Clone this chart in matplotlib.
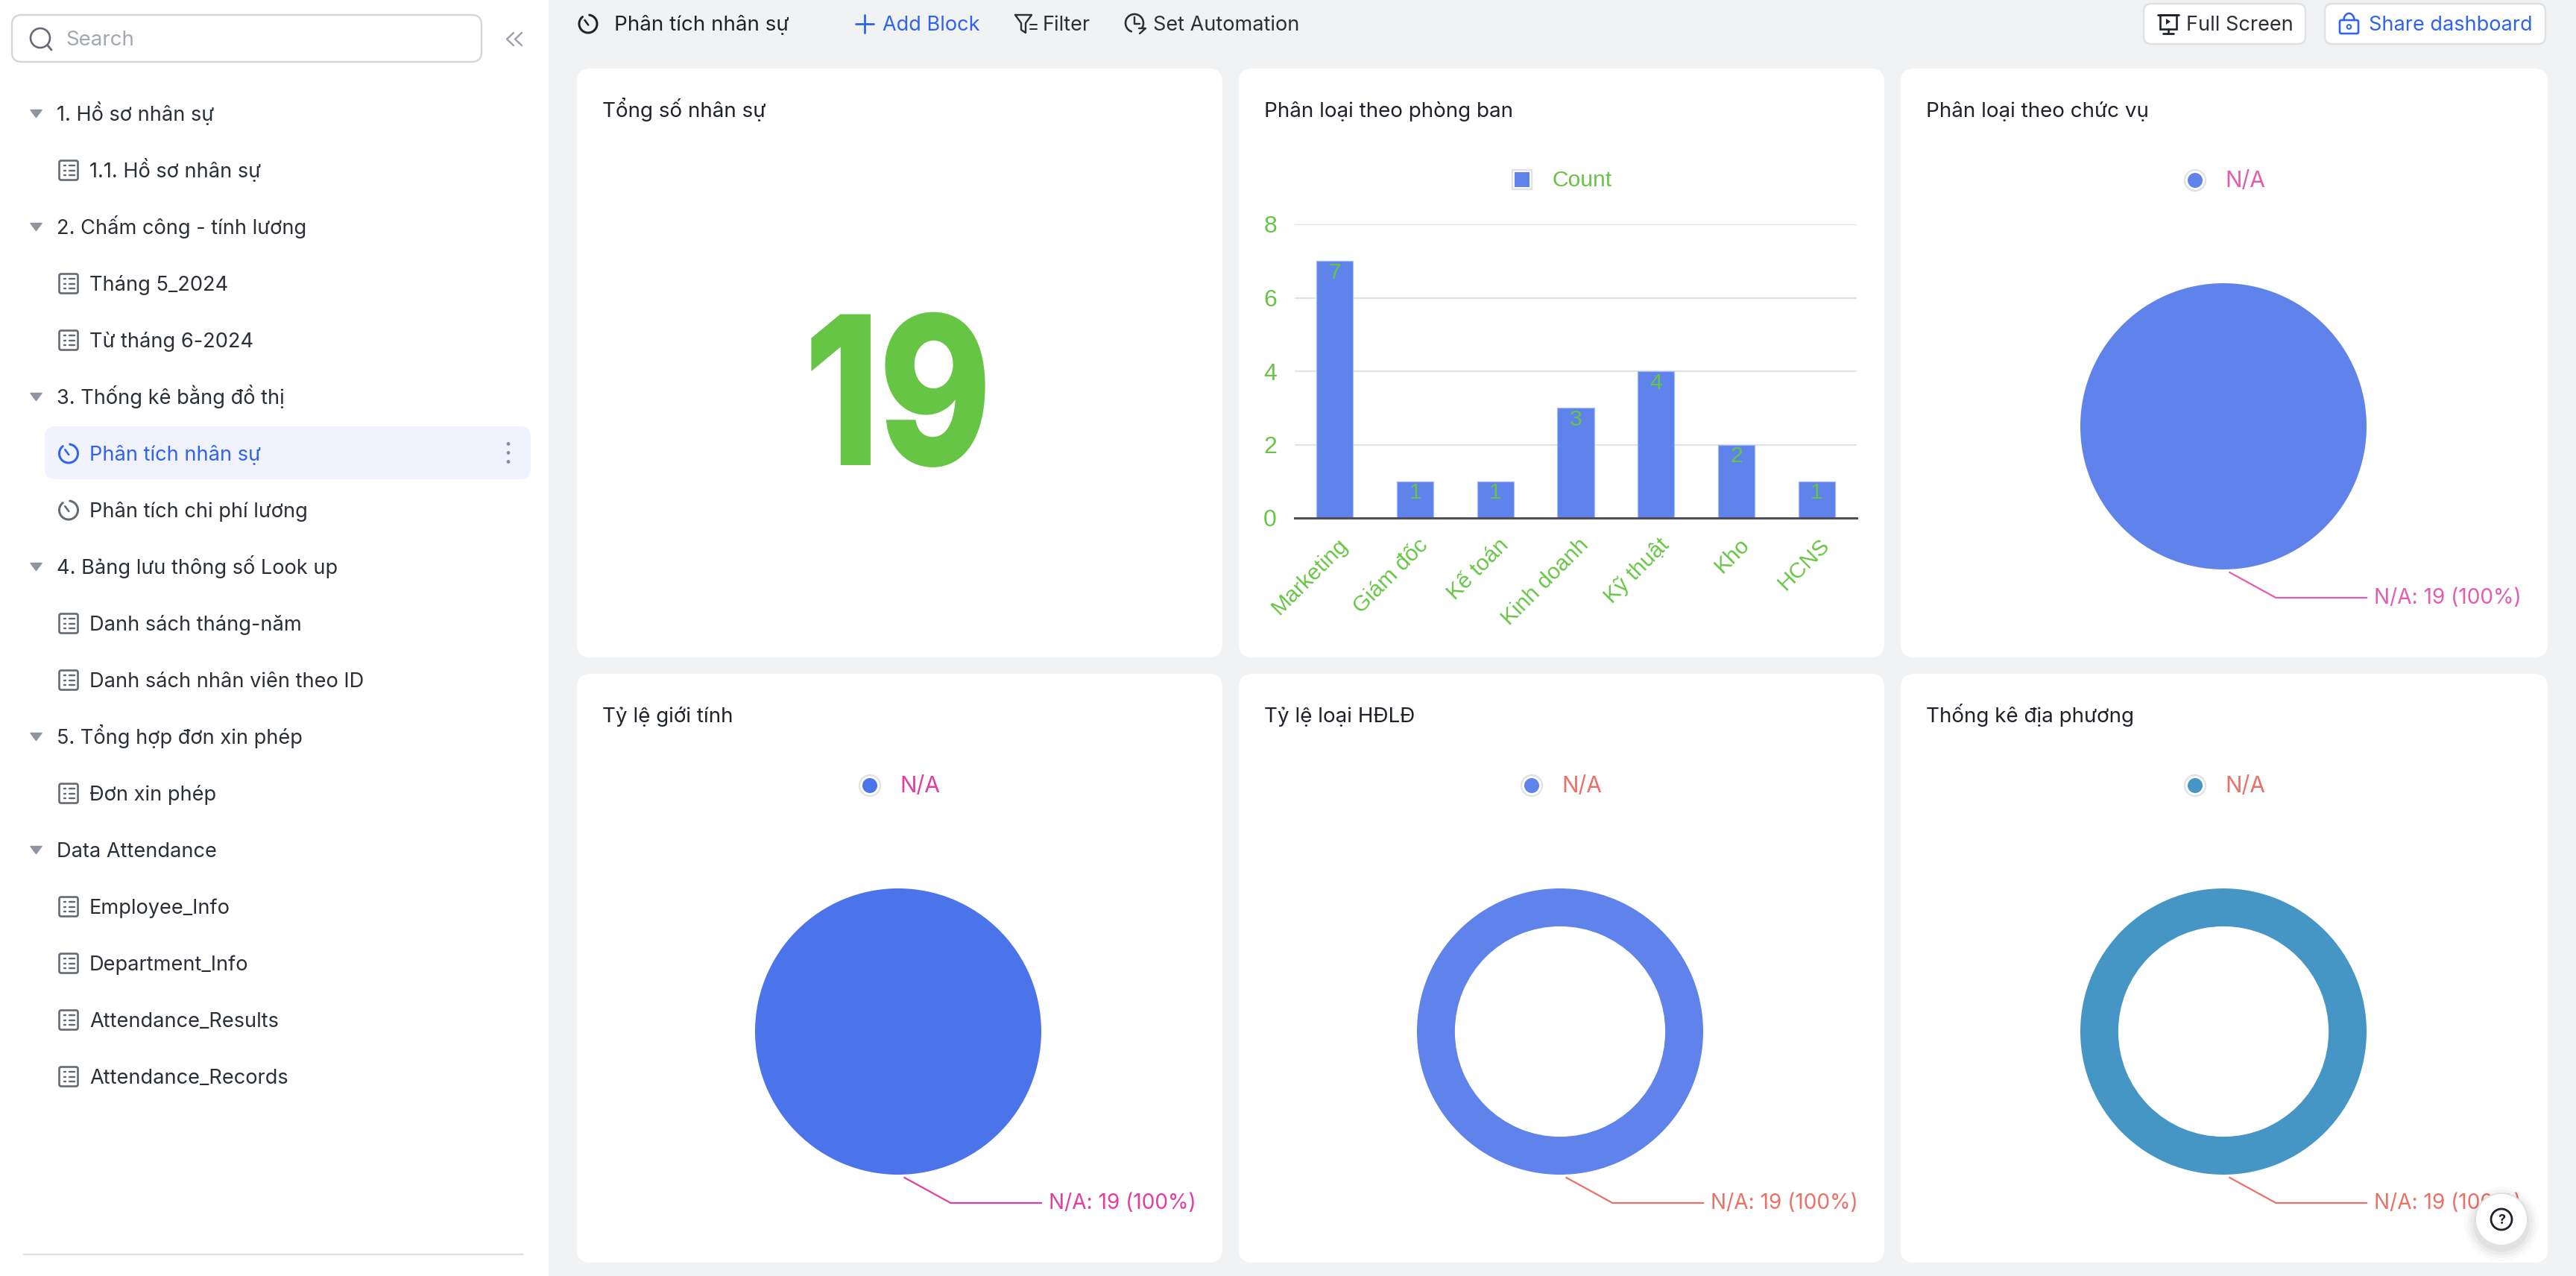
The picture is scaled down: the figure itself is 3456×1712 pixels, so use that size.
import numpy as np
import matplotlib
matplotlib.use("Agg")
import matplotlib.pyplot as plt
from matplotlib.patches import FancyBboxPatch, Circle, Polygon, Rectangle
from matplotlib.patheffects import AbstractPathEffect
from matplotlib.transforms import Affine2D, ScaledTranslation

W, H = 3456, 1712
UI = ['Inter', 'Noto Sans', 'DejaVu Sans']
HV = ['Liberation Sans', 'DejaVu Sans']
plt.rcParams['font.family'] = UI

# ---------- data ----------
departments = ['Marketing', 'Giám đốc', 'Kế toán', 'Kinh doanh', 'Kỹ thuật', 'Kho', 'HCNS']
dept_counts = [7, 1, 1, 3, 4, 2, 1]
y_ticks = [0, 2, 4, 6, 8]
total_staff = 19
pie_values = [19]
pie_label = 'N/A: 19 (100%)'
bar_series = 'Count'
pie_series = 'N/A'
card_titles = ['Tổng số nhân sự', 'Phân loại theo phòng ban', 'Phân loại theo chức vụ',
               'Tỷ lệ giới tính', 'Tỷ lệ loại HĐLĐ', 'Thống kê địa phương']
sidebar = [
    (0, '1. Hồ sơ nhân sự', ''), (1, '1.1. Hồ sơ nhân sự', 't'),
    (0, '2. Chấm công - tính lương', ''), (1, 'Tháng 5_2024', 't'), (1, 'Từ tháng 6-2024', 't'),
    (0, '3. Thống kê bằng đồ thị', ''), (1, 'Phân tích nhân sự', 'a'), (1, 'Phân tích chi phí lương', 'c'),
    (0, '4. Bảng lưu thông số Look up', ''), (1, 'Danh sách tháng-năm', 't'), (1, 'Danh sách nhân viên theo ID', 't'),
    (0, '5. Tổng hợp đơn xin phép', ''), (1, 'Đơn xin phép', 't'),
    (0, 'Data Attendance', ''), (1, 'Employee_Info', 't'), (1, 'Department_Info', 't'),
    (1, 'Attendance_Results', 't'), (1, 'Attendance_Records', 't'),
]

# ---------- colours ----------
BG = '#F1F2F4'; INK = '#1F2329'; GREY = '#646A73'; BLUE = '#3063EE'; GREEN = '#67C545'
GRID = '#E2E3E6'; PINK1 = '#E45CAE'; PINK2 = '#E53D9E'; CORAL = '#EB7167'

fig = plt.figure(figsize=(W / 100, H / 100), dpi=100, facecolor=BG)

def P(v):
    return v * 0.72

def layer(z):
    a = fig.add_axes([0, 0, 1, 1], zorder=z)
    a.set_xlim(0, W); a.set_ylim(H, 0); a.axis('off'); a.patch.set_alpha(0)
    return a

bg = layer(0)
top = layer(10)

def rbox(a, x0, y0, x1, y1, r, fc, ec='none', lw=0, z=1):
    a.add_patch(FancyBboxPatch((x0, y0), x1 - x0, y1 - y0, boxstyle=f'round,pad=0,rounding_size={r}',
                               fc=fc, ec=ec, lw=P(lw), zorder=z))

def T(a, x, y, s, px, c=INK, ha='left', fam=UI, w='normal', z=5):
    return a.text(x, y, s, fontsize=P(px), color=c, ha=ha, va='baseline', family=fam, fontweight=w, zorder=z)

def L(a, xs, ys, c, lw=2.4, z=4):
    a.plot(xs, ys, color=c, lw=P(lw), solid_capstyle='round', solid_joinstyle='round', zorder=z)

def arc(a, cx, cy, rx, ry, t0, t1, c, lw=2.6):
    t = np.radians(np.linspace(t0, t1, 60))
    L(a, cx + rx * np.cos(t), cy - ry * np.sin(t), c, lw)

def clock(a, cx, cy, r, c):
    arc(a, cx, cy, r, r, -232, 82, c, 3)
    L(a, [cx - r * .38, cx + r * .02], [cy - r * .42, cy + r * .12], c, 2.6)

def table_icon(a, cx, cy, c):
    rbox(a, cx - 12.5, cy - 13, cx + 12.5, cy + 13, 2.5, 'none', c, 2.6, z=4)
    for dy in (-6.5, 0, 6.5):
        L(a, [cx - 6.5, cx - 4], [cy + dy, cy + dy], c, 2.4)
        L(a, [cx + 1, cx + 7.5], [cy + dy, cy + dy], c, 2.4)

class XSqueeze(AbstractPathEffect):
    """Narrow the glyphs horizontally about a fixed x, and fatten them a little."""
    def __init__(self, cx, sx, grow):
        super().__init__()
        self.cx, self.sx, self.grow = cx, sx, grow
    def draw_path(self, renderer, gc, tpath, affine, rgbFace):
        t = affine + Affine2D().translate(-self.cx, 0).scale(self.sx, 1).translate(self.cx, 0)
        gc2 = renderer.new_gc()
        gc2.copy_properties(gc)
        gc2.set_foreground(rgbFace)
        gc2.set_linewidth(self.grow)
        gc2.set_joinstyle('miter')
        renderer.draw_path(gc2, tpath, t, rgbFace)
        gc2.restore()

# ---------- sidebar ----------
bg.add_patch(Rectangle((0, 0), 736, H, fc='white', ec='none', zorder=0.5))
rbox(bg, 16, 20, 646, 83, 13, 'white', '#D4D6D9', 2.4)
bg.add_patch(Circle((54, 51), 13, fc='none', ec=GREY, lw=P(2.6), zorder=4))
L(bg, [64, 69], [61, 67], GREY, 2.8)
T(bg, 88, 61, 'Search', 27.7, '#A3A7AE')
for dx in (0, 11):
    L(bg, [689 + dx, 680 + dx, 689 + dx], [44, 52.5, 61], '#9CA1A9', 2.4)
L(bg, [32, 702], [1683, 1683], '#DEE0E3', 2.4)
rbox(bg, 60, 572, 712, 643, 14, '#F0F3FE', z=2)
for dy in (-12, 0, 12):
    bg.add_patch(Circle((682, 607.5 + dy), 2.4, fc='#8A8F97', ec='none', zorder=4))

for i, (lvl, txt, kind) in enumerate(sidebar):
    y = 152.5 + 76 * i
    if lvl == 0:
        bg.add_patch(Polygon([[41, y - 5], [56, y - 5], [48.5, y + 5]], closed=True, fc='#8F959E',
                             ec='#8F959E', lw=P(1.5), joinstyle='round', zorder=4))
        T(bg, 76, y + 9.5, txt, 27.2, '#2B2F36')
    else:
        if kind == 't':
            table_icon(bg, 92, y, GREY)
        else:
            clock(bg, 92, y, 12.5, BLUE if kind == 'a' else GREY)
        T(bg, 120, y + 9.5, txt, 27.2, BLUE if kind == 'a' else '#2B2F36')

# ---------- header ----------
clock(bg, 789, 32, 12, INK)
T(bg, 824, 41, 'Phân tích nhân sự', 27.8, INK)
L(bg, [1148, 1172], [32, 32], BLUE, 2.8); L(bg, [1160, 1160], [20, 44], BLUE, 2.8)
T(bg, 1184, 41, 'Add Block', 27.1, BLUE)
L(bg, [1362, 1384, 1376, 1376, 1370, 1370, 1362], [20, 20, 31, 44, 40, 31, 20], '#2B2F36', 2.4)
L(bg, [1382, 1391], [33, 33], '#2B2F36', 2); L(bg, [1382, 1391], [39, 39], '#2B2F36', 2)
T(bg, 1399, 41, 'Filter', 27.1, '#2B2F36')
arc(bg, 1522, 31, 12, 12, -30, 250, '#2B2F36', 2.6)
L(bg, [1522, 1522, 1529], [23, 32, 32], '#2B2F36', 2.4)
L(bg, [1528, 1537, 1529], [38, 38, 45], '#2B2F36', 2.4)
T(bg, 1547, 41, 'Set Automation', 27.1, '#2B2F36')

rbox(bg, 2876, 5, 3093, 59, 10, 'white', '#DFE1E4', 2.4)
rbox(bg, 3119, 5, 3415, 59, 10, 'white', '#DFE1E4', 2.4)
c = INK
L(bg, [2895, 2923], [20, 20], c, 2.8)
bg.add_patch(Rectangle((2898, 20), 22, 19, fc='none', ec=c, lw=P(2.6), zorder=4))
bg.add_patch(Polygon([[2906, 25], [2906, 33], [2912, 29]], closed=True, fc=c, ec='none', zorder=4))
L(bg, [2909, 2909], [39, 45], c, 2.6); L(bg, [2902, 2916], [45, 45], c, 2.8)
T(bg, 2933, 41, 'Full Screen', 27.1, '#2B2F36')
rbox(bg, 3139, 27, 3164, 45, 2, 'none', BLUE, 2.6, z=4)
arc(bg, 3151.5, 27, 7, 9, 0, 180, BLUE, 2.6)
bg.add_patch(Circle((3151.5, 36), 2.8, fc='none', ec=BLUE, lw=P(2), zorder=4))
T(bg, 3178, 41, 'Share dashboard', 27.1, BLUE)

# ---------- cards ----------
xs = [(774, 1640), (1662, 2528), (2550, 3418)]
ys = [(92, 882), (904, 1694)]
k = 0
for (y0, y1) in ys:
    for (x0, x1) in xs:
        rbox(bg, x0, y0, x1, y1, 18, 'white')
        T(bg, x0 + 33.5, y0 + 65, card_titles[k], 27.8, INK)
        k += 1

# big number
big = T(bg, 1205, 621, str(total_staff), 270, GREEN, ha='center', w='bold')
big.set_path_effects([XSqueeze(1205, 0.85, P(6))])

# ---------- bar chart ----------
ax = fig.add_axes([1737 / W, 1 - 695 / H, (2491 - 1737) / W, (695 - 301) / H], zorder=3)
ax.patch.set_alpha(0)
x = np.arange(len(departments))
ax.bar(x, dept_counts, width=0.455, color='#5F82EB', edgecolor='#A7BBF4', linewidth=P(1.2), zorder=3)
ax.set_xlim(-0.5, len(departments) - 0.5)
ax.set_ylim(0, 8)
ax.set_yticks(y_ticks)
ax.set_yticklabels([str(v) for v in y_ticks], fontsize=P(32), color=GREEN, family=HV)
ax.yaxis.grid(True, color=GRID, lw=P(2.2), zorder=1)
ax.set_axisbelow(True)
ax.tick_params(axis='y', length=0, pad=P(24))
ax.tick_params(axis='x', length=0, pad=0)
ax.set_xticks(x)
labels = ax.set_xticklabels(departments, rotation=45, ha='right', va='center',
                            rotation_mode='anchor', fontsize=P(30), color=GREEN, family=HV)
shift = ScaledTranslation(P(13) / 72, -P(32) / 72, fig.dpi_scale_trans)
for lab in labels:
    lab.set_transform(lab.get_transform() + shift)
for s in ('top', 'left', 'right'):
    ax.spines[s].set_visible(False)
ax.spines['bottom'].set_color('#4E4F57'); ax.spines['bottom'].set_linewidth(P(3))
ax.spines['bottom'].set_zorder(5)
for i, v in enumerate(dept_counts):
    ax.annotate(str(v), (i, v), xytext=(0, -P(1.5)), textcoords='offset points', ha='center', va='top',
                fontsize=P(30), color=GREEN, family=HV, zorder=6)

rbox(bg, 2029, 228, 2055, 254, 0.5, 'white', '#DFE1E4', 2.4)
bg.add_patch(Rectangle((2032, 231), 20, 20, fc='#5F82EB', ec='none', zorder=4))
T(bg, 2083, 250, bar_series, 30, GREEN, fam=HV)

# ---------- pies ----------
R = 192
LEADER_X = [8.4 / R, 70.4 / R, 1.0]
LEADER_Y = [-196 / R, -230 / R, -230 / R]

def pie(cx, cy, col, tcol, ring=None):
    a = fig.add_axes([(cx - R) / W, 1 - (cy + R) / H, 2 * R / W, 2 * R / H], zorder=3)
    a.patch.set_alpha(0)
    kw = dict(width=ring) if ring else {}
    a.pie(pie_values, colors=[col], radius=1, startangle=90, center=(0, 0),
          wedgeprops=dict(linewidth=0, **kw))
    a.set_xlim(-1, 1); a.set_ylim(-1, 1); a.set_aspect('equal')
    a.plot(LEADER_X, LEADER_Y, color=tcol, lw=P(2.2), clip_on=False, solid_joinstyle='miter', zorder=3)
    a.text(1.05, -230 / R, pie_label, fontsize=P(28), color=tcol, ha='left', va='center', clip_on=False)
    # legend
    lx, ly = cx - 38, cy - 330
    bg.add_patch(Circle((lx, ly), 14, fc='white', ec='#DFE1E4', lw=P(2.2), zorder=4))
    bg.add_patch(Circle((lx, ly), 10, fc=col, ec='none', zorder=5))
    T(bg, lx + 40.5, ly + 8.5, pie_series, 30, tcol)

pie(2983, 572, '#5F82EB', PINK1)
pie(1205, 1384, '#4B73EA', PINK2)
pie(2093, 1384, '#5F82EB', CORAL, ring=0.265)
pie(2983, 1384, '#4595C5', CORAL, ring=0.265)

# ---------- help button ----------
for r_, al in ((50, .02), (46, .025), (42, .03), (38, .04)):
    top.add_patch(Circle((3356, 1642), r_, fc='black', ec='none', alpha=al, zorder=1))
top.add_patch(Circle((3356, 1636), 35, fc='white', ec='#DFE1E4', lw=P(2), zorder=2))
top.add_patch(Circle((3356, 1636), 14, fc='none', ec=INK, lw=P(2.8), zorder=3))
top.text(3356, 1642, '?', fontsize=P(18), color=INK, ha='center', va='baseline', fontweight='bold', zorder=4)

fig.savefig('out.png', dpi=100, facecolor=BG)
